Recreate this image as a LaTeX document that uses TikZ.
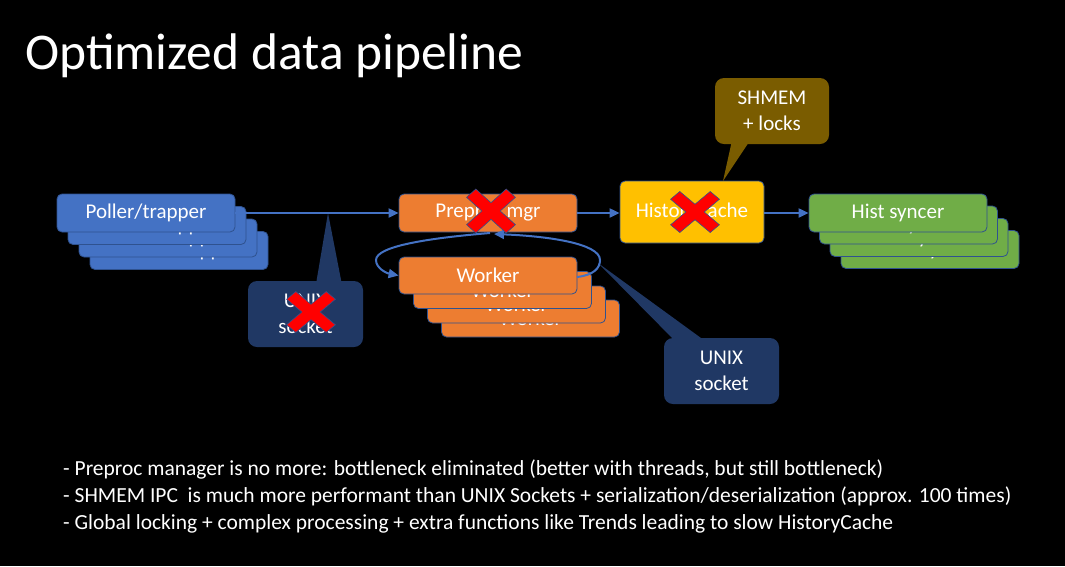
\documentclass[tikz,border=0pt]{standalone}
\usepackage{fontspec}
\setmainfont{Carlito}
\usetikzlibrary{arrows.meta}
\definecolor{boxline}{HTML}{2F528F}
\definecolor{pblue}{HTML}{4472C4}
\definecolor{porange}{HTML}{ED7D31}
\definecolor{pyellow}{HTML}{FFC000}
\definecolor{pgreen}{HTML}{70AD47}
\definecolor{pnavy}{HTML}{203864}
\definecolor{pbrown}{HTML}{7A5C00}
\definecolor{xred}{HTML}{FF0000}
\tikzset{
  procbox/.style={draw=boxline, line width=0.8pt, rounded corners=5pt, minimum width=178pt, minimum height=38pt, inner sep=0pt, text=white, font=\fontsize{21}{25}\selectfont},
  calloutbox/.style={rounded corners=9pt, minimum width=115pt, minimum height=66pt, inner sep=0pt, text=white, align=center, font=\fontsize{21}{26}\selectfont},
  flow/.style={draw=pblue, line width=2pt, -{Triangle[length=10pt,width=9pt]}},
  crossmark/.pic={\draw[fill=xred, draw=boxline, line width=0.6pt, rotate=45] (6.5,28)--(6.5,6.5)--(28,6.5)--(28,-6.5)--(6.5,-6.5)--(6.5,-28)--(-6.5,-28)--(-6.5,-6.5)--(-28,-6.5)--(-28,6.5)--(-6.5,6.5)--(-6.5,28)--cycle;}
}
\begin{document}
\begin{tikzpicture}[x=1pt,y=-1pt]
\fill[black] (0,0) rectangle (1065,566);
\useasboundingbox (0,0) rectangle (1065,566);

% title
\node[anchor=base west, inner sep=0pt, text=white, font=\fontsize{51.5}{60}\selectfont] (title) at (25,69) {Optimized data pipeline};

% poller stack
\node[procbox, fill=pblue] (poll4) at (179,250.5) {Poller/trapper};
\node[procbox, fill=pblue] (poll3) at (168,238) {Poller/trapper};
\node[procbox, fill=pblue] (poll2) at (157,225.5) {Poller/trapper};
\node[procbox, fill=pblue] (poll1) at (146,213) {Poller/trapper};

% preproc manager
\node[procbox, fill=porange] (pre) at (488,213) {Preproc mgr};

% workers
\node[procbox, fill=porange, minimum height=37pt] (w4) at (530.5,318.5) {Worker};
\node[procbox, fill=porange, minimum height=37pt] (w3) at (516.5,304.5) {Worker};
\node[procbox, fill=porange, minimum height=37pt] (w2) at (502.5,290) {Worker};
\node[procbox, fill=porange, minimum height=37pt] (w1) at (488,275.5) {Worker};

% history cache
\node[procbox, fill=pyellow, minimum width=144pt, minimum height=62pt] (hc) at (692,212) {HistoryCache};

% hist syncers
\node[procbox, fill=pgreen] (hs4) at (930,249.5) {Hist syncer};
\node[procbox, fill=pgreen] (hs3) at (919,237.5) {Hist syncer};
\node[procbox, fill=pgreen] (hs2) at (908.5,225) {Hist syncer};
\node[procbox, fill=pgreen] (hs1) at (898,213) {Hist syncer};

% callout 1 (crossed UNIX socket)
\coordinate (tip1) at (328,213);
\fill[pnavy] (315,290) -- (tip1) -- (343,290) -- cycle;
\node[calloutbox, fill=pnavy] (cu1) at (305.5,314) {UNIX\\socket};

% callout 2 (UNIX socket)
\coordinate (tip2) at (598,263);
\fill[pnavy] (680,346) -- (tip2) -- (712,346) -- cycle;
\node[calloutbox, fill=pnavy] (cu2) at (721.5,371) {UNIX\\socket};

% SHMEM callout
\coordinate (tip3) at (723,181);
\fill[pbrown] (733,136) -- (tip3) -- (753,136) -- cycle;
\node[calloutbox, fill=pbrown, minimum width=114pt, minimum height=66pt] (shm) at (772,111) {SHMEM\\+ locks};

% arrows
\draw[flow] (poll1.east) -- (pre.west);
\draw[flow] (pre.east) -- (hc.west |- pre.east);
\draw[flow] (hc.east |- hs1.west) -- (hs1.west);

% loop arrows
\draw[flow] (490,233) .. controls (430,238) and (376,246) .. (376,260) .. controls (376,268) and (386,273) .. (w1.west);
\draw[flow] (577,277) .. controls (594,275) and (600,268) .. (600,260) .. controls (600,243) and (545,236) .. (494,234);

% red crosses
\pic[yscale=0.84] at (311,312) {crossmark};
\pic[yscale=0.9] at (491,211) {crossmark};
\pic[yscale=0.84] at (695,212) {crossmark};

% bullet text
\node[anchor=base west, inner sep=0pt, text=white, align=left, font=\fontsize{21.5}{27}\selectfont] (notes) at (63,529) {- Preproc manager is no more: bottleneck eliminated (better with threads, but still bottleneck)\\- SHMEM IPC~ is much more performant than UNIX Sockets + serialization/deserialization (approx. 100 times)\\- Global locking + complex processing + extra functions like Trends leading to slow HistoryCache};
\end{tikzpicture}
\end{document}
